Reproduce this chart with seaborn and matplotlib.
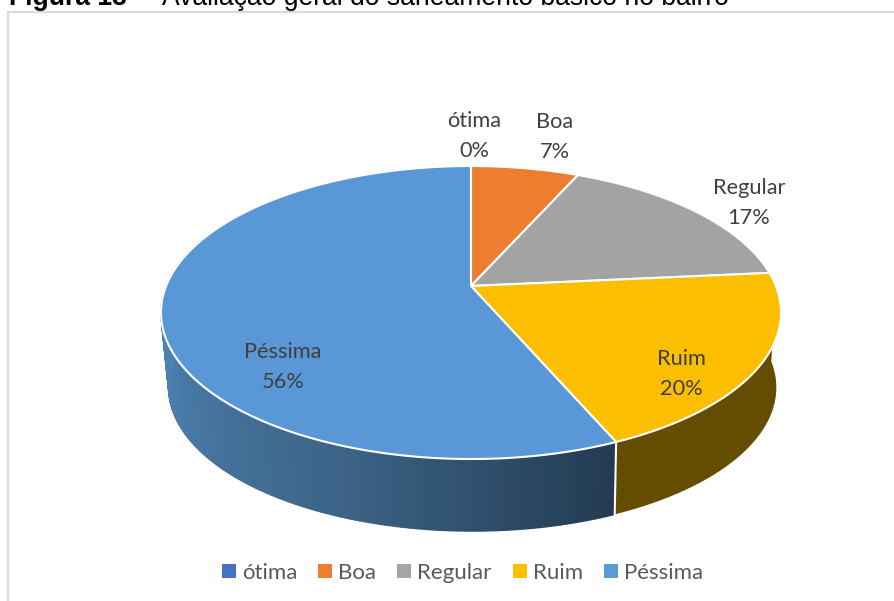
import numpy as np
import matplotlib
matplotlib.use("Agg")
import matplotlib.pyplot as plt
from matplotlib.patches import Patch, Rectangle
import seaborn as sns

categories = ["ótima", "Boa", "Regular", "Ruim", "Péssima"]
values = [0.0, 6.7, 16.8, 20.0, 56.49]
colors = ["#4472C4", "#ED7D31", "#A5A5A5", "#FFC000", "#5B9BD5"]
top_colors = ["#4472C4", "#ED7D31", "#A3A3A3", "#FCBE00", "#5A97D6"]
title_bold = "Figura 13"
title_rest = "Avaliação geral do saneamento básico no bairro"

# label anchors, in pixels of the picture
label_pos = [(474, 136), (555, 137), (749, 203), (681, 374), (283, 367)]

# pie geometry, tilted circle with perspective
CX, CY = 471, 286
A, B, K = 304.9, 141.7, 0.181
SCALE, DROP, SHIFT = 0.98, 75.5, 1.5


def rim(theta):
    u, v = np.sin(theta), np.cos(theta)
    w = 1 + K * v
    return CX + A * u / w, CY - B * v / w


def lower_rim(theta):
    x, y = rim(theta)
    return CX + SHIFT + (x - CX) * SCALE, CY + DROP + (y - CY) * SCALE


sns.set_theme(style="white")
plt.rcParams["font.family"] = ["Lato", "DejaVu Sans"]

fig = plt.figure(figsize=(8.95, 6.01), dpi=100)
ax = fig.add_axes([0, 0, 1, 1])
ax.set_xlim(0, 895)
ax.set_ylim(601, 0)
ax.axis("off")

ax.add_patch(Rectangle((8, 11.5), 950, 650, fc="white", ec="#D9D9D9", lw=1.5))

ax.text(9, 5, title_bold, family="Liberation Sans", weight="bold", fontsize=19.1,
        color="black", va="baseline")
ax.text(162, 5, title_rest, family="Liberation Sans", fontsize=19.1,
        color="black", va="baseline")

fractions = np.array(values) / sum(values)
edges = np.concatenate([[0], np.cumsum(fractions)]) * 2 * np.pi

# side walls, only the front part is visible
ruim_side = np.linspace(np.pi / 2, edges[4], 120)
x1, y1 = rim(ruim_side)
x2, y2 = lower_rim(ruim_side)
ax.fill(np.r_[x1, x2[::-1]], np.r_[y1, y2[::-1]], color="#644C00", lw=0)

blue_side = np.linspace(edges[4], 1.62 * np.pi, 160)
ramp = sns.blend_palette(["#233B52", "#3D6488", "#4A7DAB", "#5089BC"], n_colors=159)
for i in range(159):
    th = blue_side[i:i + 2]
    x1, y1 = rim(th)
    x2, y2 = lower_rim(th)
    ax.fill(np.r_[x1, x2[::-1]], np.r_[y1, y2[::-1]], color=ramp[i], ec=ramp[i], lw=1)

x1, y1 = rim(edges[4])
x2, y2 = lower_rim(edges[4])
ax.plot([x1, x2], [y1, y2], color="white", lw=1.5)

# top face
for i, c in enumerate(top_colors):
    if values[i] == 0:
        continue
    th = np.linspace(edges[i], edges[i + 1], 200)
    x, y = rim(th)
    ax.fill(np.r_[CX, x], np.r_[CY, y], facecolor=c, edgecolor="white", lw=1.5,
            joinstyle="round")

for name, val, (px, py) in zip(categories, values, label_pos):
    ax.text(px, py, f"{name}\n{val:.0f}%", ha="center", va="center", fontsize=15.7,
            color="#404040", linespacing=1.65)

handles = [Patch(fc=c, ec="none") for c in colors]
ax.legend(handles, categories, ncol=5, loc="center", bbox_to_anchor=(462.5 / 895, 1 - 573 / 601),
          frameon=False, fontsize=16, labelcolor="#595959", handlelength=0.63, handleheight=0.63,
          handletextpad=0.27, columnspacing=0.94)

fig.savefig("out.png", dpi=100)
